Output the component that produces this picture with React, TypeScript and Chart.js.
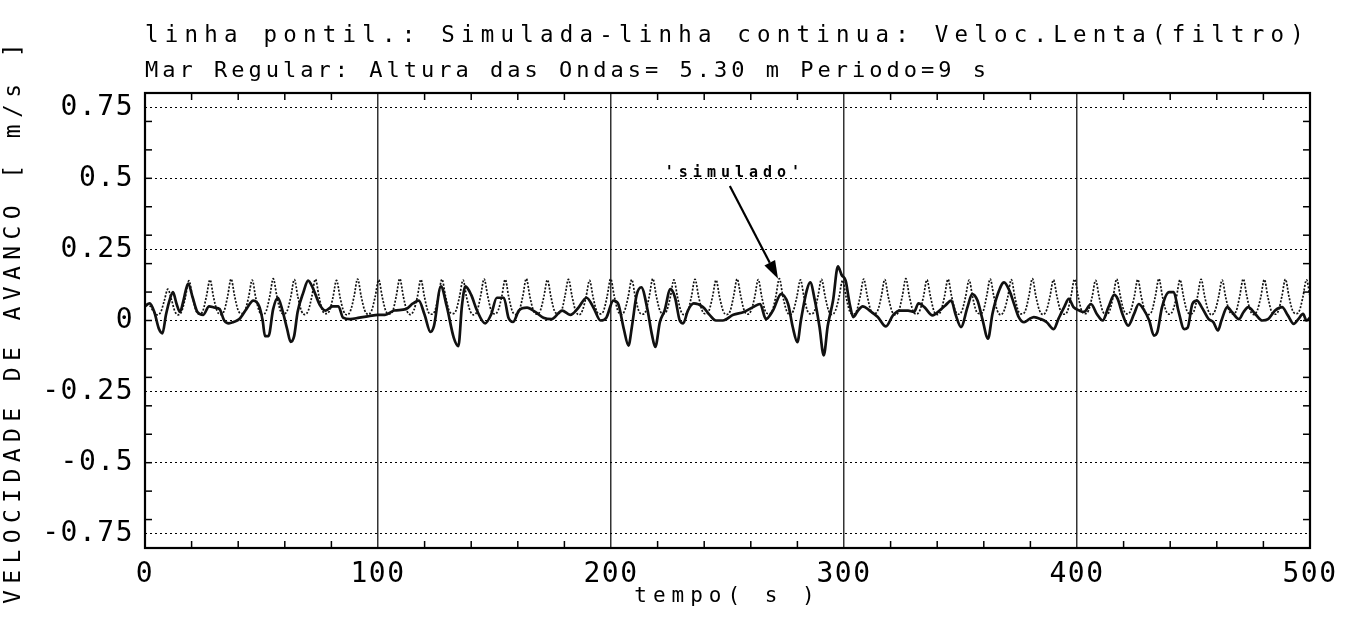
import { useEffect, useRef } from 'react';
import { Chart, registerables } from 'chart.js';

Chart.register(...registerables);

const FONT_FAMILY = '"DejaVu Sans Mono", monospace';

const TITLE_LINE_1 = 'linha pontil.: Simulada-linha continua: Veloc.Lenta(filtro)';
const TITLE_LINE_2 = 'Mar Regular: Altura das Ondas= 5.30 m Periodo=9 s';
const X_AXIS_TITLE = 'tempo( s )';
const Y_AXIS_TITLE = 'VELOCIDADE DE AVANCO [ m/s ]';
const ANNOTATION_LABEL = "'simulado'";

const X_TICKS = [0, 100, 200, 300, 400, 500];
const Y_TICKS = [-0.75, -0.5, -0.25, 0, 0.25, 0.5, 0.75];
const X_MIN = 0;
const X_MAX = 500;
const Y_MIN = -0.8;
const Y_MAX = 0.8;
const X_MINOR_STEP = 20;
const Y_MINOR_STEP = 0.1;

// annotation anchor points (time s, velocity m/s)
const ANNOTATION_TEXT_AT = [253.2, 0.52];
const ARROW_FROM = [251, 0.473];
const ARROW_TO = [271.7, 0.147];

// solid line: slow velocity (filtered)
const slowTime = [
  0, 2, 4, 6, 7.5, 9, 10.5, 12, 13.5, 15, 16.5, 18.5, 20.5, 22.5, 25, 27.5, 30, 32, 34, 36,
  38, 40.5, 43.5, 46.5, 49, 50.5, 51.5, 53, 55, 57, 59, 61, 62.5, 64, 65.5, 68, 70, 72, 75, 77.5,
  80.5, 83, 85, 88, 92, 96, 100, 103, 107, 112, 115, 117.5, 120, 122.5, 124, 127, 129.5, 132.5, 134.5, 136,
  137.5, 140, 142.5, 146, 148.5, 151, 154, 156, 158, 160.5, 164, 167.5, 171, 174.5, 179, 182.5, 186, 189.5, 192.5, 195.5,
  198, 201, 203, 205.5, 207.5, 209, 211, 213, 215.5, 217.5, 219, 221, 223, 225.5, 227.5, 229.5, 231, 233, 235.5, 239.5,
  242.5, 245, 248, 252.5, 257, 261, 264, 266.5, 269.5, 273, 276, 278, 280, 281.5, 284, 285.5, 287.5, 289.5, 291.3, 293,
  295.3, 297.4, 299, 300.7, 302.4, 304, 306, 308, 311, 314.5, 318, 321, 324, 327.5, 330, 332, 334.5, 338, 341, 343.5,
  346, 348, 350.2, 353, 355, 357.3, 359.4, 361.8, 363.7, 366, 368.7, 371, 373, 375, 377.3, 379.5, 381.5, 384.5, 387, 390,
  392, 394.5, 396.5, 398.5, 401, 403, 406, 408.5, 411, 413.5, 416, 417.5, 419.5, 422, 424.5, 426.5, 428.5, 431, 433, 434.5,
  436.5, 439.5, 441.5, 443.5, 446, 447.5, 449.5, 451.5, 453.5, 456.5, 458.5, 460.5, 462, 464.5, 466.5, 469.5, 471.5, 473.5, 476.5, 479.5,
  482, 485, 488, 490.5, 493, 495, 497, 498.5, 500,
];
const slowVelocity = [
  0.05, 0.06, 0.03, -0.03, -0.045, 0.02, 0.07, 0.1, 0.06, 0.03, 0.07, 0.13, 0.08, 0.03, 0.02, 0.05, 0.045, 0.04, 0.0, -0.01,
  -0.005, 0.005, 0.04, 0.07, 0.05, 0.0, -0.055, -0.055, 0.04, 0.08, 0.035, -0.03, -0.075, -0.055, 0.03, 0.1, 0.14, 0.115, 0.055, 0.035,
  0.05, 0.05, 0.01, 0.005, 0.01, 0.015, 0.02, 0.02, 0.035, 0.04, 0.06, 0.07, 0.02, -0.04, -0.02, 0.12, 0.05, -0.06, -0.09, 0.05,
  0.12, 0.09, 0.035, -0.01, 0.02, 0.08, 0.08, 0.01, -0.005, 0.035, 0.045, 0.03, 0.01, 0.005, 0.035, 0.02, 0.045, 0.08, 0.045, 0.0,
  0.01, 0.07, 0.06, -0.03, -0.088, -0.02, 0.09, 0.117, 0.045, -0.047, -0.093, -0.005, 0.035, 0.11, 0.08, 0.0, -0.01, 0.035, 0.06, 0.047,
  0.018, 0.0, 0.0, 0.02, 0.03, 0.047, 0.058, 0.005, 0.035, 0.093, 0.058, -0.023, -0.076, 0.0, 0.105, 0.134, 0.07, -0.023, -0.123, -0.02,
  0.07, 0.19, 0.16, 0.14, 0.06, 0.012, 0.035, 0.05, 0.035, 0.012, -0.021, 0.018, 0.035, 0.035, 0.03, 0.06, 0.047, 0.018, 0.035, 0.053,
  0.07, 0.018, -0.023, 0.047, 0.093, 0.07, 0.005, -0.064, 0.023, 0.093, 0.134, 0.105, 0.058, 0.012, -0.006, 0.005, 0.012, 0.005, -0.006, -0.03,
  0.005, 0.047, 0.076, 0.047, 0.035, 0.03, 0.058, 0.023, 0.0, 0.047, 0.09, 0.075, 0.023, -0.018, 0.023, 0.058, 0.04, 0.0, -0.053, -0.04,
  0.047, 0.1, 0.1, 0.035, -0.03, -0.025, 0.058, 0.07, 0.047, 0.005, -0.006, -0.035, 0.0, 0.047, 0.03, 0.005, 0.03, 0.047, 0.023, 0.0,
  0.005, 0.035, 0.047, 0.018, -0.012, 0.005, 0.023, 0.0, 0.01,
];

// dotted line: simulated velocity, sampled evenly from SIM_START every SIM_STEP seconds
const SIM_START = 0.75;
const SIM_STEP = 9.05 / 6;
const simulatedVelocity = [
  0.060, 0.050, 0.030, 0.020, 0.030, 0.070,
  0.110, 0.075, 0.032, 0.020, 0.034, 0.082,
  0.140, 0.085, 0.035, 0.022, 0.035, 0.086,
  0.143, 0.082, 0.034, 0.021, 0.033, 0.084,
  0.146, 0.086, 0.036, 0.024, 0.036, 0.083,
  0.142, 0.081, 0.033, 0.020, 0.034, 0.085,
  0.147, 0.087, 0.035, 0.023, 0.035, 0.084,
  0.144, 0.083, 0.034, 0.021, 0.036, 0.086,
  0.145, 0.085, 0.035, 0.024, 0.034, 0.082,
  0.141, 0.082, 0.033, 0.020, 0.035, 0.085,
  0.146, 0.086, 0.036, 0.022, 0.035, 0.084,
  0.143, 0.083, 0.034, 0.023, 0.033, 0.086,
  0.147, 0.085, 0.035, 0.021, 0.036, 0.083,
  0.144, 0.084, 0.033, 0.022, 0.034, 0.085,
  0.145, 0.086, 0.036, 0.024, 0.035, 0.084,
  0.142, 0.082, 0.034, 0.020, 0.033, 0.086,
  0.146, 0.087, 0.035, 0.023, 0.036, 0.083,
  0.144, 0.083, 0.033, 0.021, 0.034, 0.085,
  0.147, 0.085, 0.036, 0.022, 0.035, 0.084,
  0.143, 0.084, 0.034, 0.024, 0.033, 0.086,
  0.145, 0.086, 0.035, 0.020, 0.036, 0.083,
  0.141, 0.082, 0.033, 0.023, 0.034, 0.085,
  0.146, 0.087, 0.036, 0.021, 0.035, 0.084,
  0.144, 0.083, 0.034, 0.022, 0.033, 0.086,
  0.147, 0.085, 0.035, 0.024, 0.036, 0.083,
  0.143, 0.084, 0.033, 0.020, 0.034, 0.085,
  0.145, 0.086, 0.036, 0.023, 0.035, 0.084,
  0.142, 0.082, 0.034, 0.021, 0.033, 0.086,
  0.146, 0.087, 0.035, 0.022, 0.036, 0.083,
  0.144, 0.083, 0.033, 0.024, 0.034, 0.085,
  0.147, 0.085, 0.036, 0.020, 0.035, 0.084,
  0.143, 0.084, 0.034, 0.023, 0.033, 0.086,
  0.145, 0.086, 0.035, 0.021, 0.036, 0.083,
  0.141, 0.082, 0.033, 0.022, 0.034, 0.085,
  0.146, 0.087, 0.036, 0.024, 0.035, 0.084,
  0.144, 0.083, 0.034, 0.020, 0.033, 0.086,
  0.147, 0.085, 0.035, 0.023, 0.036, 0.083,
  0.143, 0.084, 0.033, 0.021, 0.034, 0.085,
  0.145, 0.086, 0.036, 0.022, 0.035, 0.084,
  0.142, 0.082, 0.034, 0.024, 0.033, 0.086,
  0.146, 0.087, 0.035, 0.020, 0.036, 0.083,
  0.144, 0.083, 0.033, 0.023, 0.034, 0.085,
  0.147, 0.085, 0.036, 0.021, 0.035, 0.084,
  0.143, 0.084, 0.034, 0.022, 0.033, 0.086,
  0.145, 0.086, 0.035, 0.024, 0.036, 0.083,
  0.141, 0.082, 0.033, 0.020, 0.034, 0.085,
  0.146, 0.087, 0.036, 0.023, 0.035, 0.084,
  0.144, 0.083, 0.034, 0.021, 0.033, 0.086,
  0.147, 0.085, 0.035, 0.022, 0.036, 0.083,
  0.143, 0.084, 0.033, 0.024, 0.034, 0.085,
  0.145, 0.086, 0.036, 0.020, 0.035, 0.084,
  0.142, 0.082, 0.034, 0.023, 0.033, 0.086,
  0.146, 0.087, 0.035, 0.021, 0.036, 0.083,
  0.144, 0.083, 0.033, 0.022, 0.034, 0.085,
  0.145, 0.085, 0.036, 0.024, 0.035, 0.084,
  0.143, 0.084,
];

// letter spacing per font size (plotter-style wide lettering)
const LETTER_SPACING: Record<number, string> = {
  23: '6.4px',
  22: '4px',
  21: '6px',
  28: '1.5px',
  15: '5px',
};

function installLetterSpacing(ctx: CanvasRenderingContext2D) {
  const desc = Object.getOwnPropertyDescriptor(CanvasRenderingContext2D.prototype, 'font');
  if (!desc || !desc.get || !desc.set) return;
  Object.defineProperty(ctx, 'font', {
    configurable: true,
    get() {
      return desc.get!.call(this);
    },
    set(v: string) {
      desc.set!.call(this, v);
      const m = /(\d+(?:\.\d+)?)px/.exec(v);
      const ls = m ? LETTER_SPACING[Math.round(parseFloat(m[1]))] : undefined;
      if ('letterSpacing' in this) (this as any).letterSpacing = ls ?? '0px';
    },
  });
}

const plotterFrame = {
  id: 'plotterFrame',
  afterDraw(chart: any) {
    const { ctx, chartArea: a, scales } = chart;
    const x = scales.x;
    const y = scales.y;
    ctx.save();
    ctx.strokeStyle = '#000';
    ctx.lineWidth = 1.5;
    ctx.setLineDash([]);
    const seg = (x1: number, y1: number, x2: number, y2: number) => {
      ctx.beginPath();
      ctx.moveTo(x1, y1);
      ctx.lineTo(x2, y2);
      ctx.stroke();
    };
    for (let t = X_MIN + X_MINOR_STEP; t < X_MAX; t += X_MINOR_STEP) {
      if (Math.abs(t % 100) < 1e-6) continue;
      const px = x.getPixelForValue(t);
      seg(px, a.bottom, px, a.bottom - 7);
      seg(px, a.top, px, a.top + 7);
    }
    for (let k = -7; k <= 7; k++) {
      const v = k * Y_MINOR_STEP;
      const py = y.getPixelForValue(v);
      seg(a.left, py, a.left + 7, py);
      seg(a.right, py, a.right - 7, py);
    }
    ctx.lineWidth = 2.2;
    ctx.strokeRect(a.left, a.top, a.right - a.left, a.bottom - a.top);

    // annotation
    const fx = x.getPixelForValue(ARROW_FROM[0]);
    const fy = y.getPixelForValue(ARROW_FROM[1]);
    const tx = x.getPixelForValue(ARROW_TO[0]);
    const ty = y.getPixelForValue(ARROW_TO[1]);
    const ang = Math.atan2(ty - fy, tx - fx);
    const head = 18;
    const half = 6;
    const bx = tx - head * Math.cos(ang);
    const by = ty - head * Math.sin(ang);
    ctx.lineWidth = 2.2;
    seg(fx, fy, bx, by);
    ctx.fillStyle = '#000';
    ctx.beginPath();
    ctx.moveTo(tx, ty);
    ctx.lineTo(bx + half * Math.sin(ang), by - half * Math.cos(ang));
    ctx.lineTo(bx - half * Math.sin(ang), by + half * Math.cos(ang));
    ctx.closePath();
    ctx.fill();

    ctx.font = `bold 15px ${FONT_FAMILY}`;
    ctx.textAlign = 'center';
    ctx.textBaseline = 'middle';
    ctx.fillText(ANNOTATION_LABEL, x.getPixelForValue(ANNOTATION_TEXT_AT[0]), y.getPixelForValue(ANNOTATION_TEXT_AT[1]));
    ctx.restore();
  },
};

export default function App() {
  const canvasRef = useRef<HTMLCanvasElement | null>(null);

  useEffect(() => {
    document.body.style.margin = '0';
    const canvas = canvasRef.current;
    if (!canvas) return;
    const ctx = canvas.getContext('2d');
    if (!ctx) return;
    installLetterSpacing(ctx);

    const slowData = slowTime.map((t, i) => ({ x: t, y: slowVelocity[i] }));
    const simData = simulatedVelocity.map((v, i) => ({ x: SIM_START + i * SIM_STEP, y: v }));

    const chart = new Chart(ctx, {
      type: 'line',
      data: {
        datasets: [
          {
            label: 'Veloc.Lenta(filtro)',
            data: slowData,
            borderColor: '#111',
            borderWidth: 2.7,
            pointRadius: 0,
            cubicInterpolationMode: 'monotone',
            fill: false,
          },
          {
            label: 'Simulada',
            data: simData,
            borderColor: '#111',
            borderWidth: 1.7,
            borderDash: [2, 1.6],
            pointRadius: 0,
            cubicInterpolationMode: 'monotone',
            fill: false,
          },
        ],
      },
      options: {
        responsive: false,
        animation: false,
        devicePixelRatio: 1,
        layout: { padding: { left: 0, right: 53, top: 0, bottom: 0 } },
        plugins: {
          legend: { display: false },
          tooltip: { enabled: false },
          title: {
            display: true,
            text: TITLE_LINE_1,
            align: 'start',
            fullSize: false,
            color: '#000',
            font: { family: FONT_FAMILY, size: 23, weight: 'normal' },
            padding: { top: 22.7, bottom: 0 },
          },
          subtitle: {
            display: true,
            text: TITLE_LINE_2,
            align: 'start',
            fullSize: false,
            color: '#000',
            font: { family: FONT_FAMILY, size: 22, weight: 'normal' },
            padding: { top: 8, bottom: 8.3 },
          },
        },
        scales: {
          x: {
            type: 'linear',
            min: X_MIN,
            max: X_MAX,
            afterBuildTicks: (s: any) => {
              s.ticks = X_TICKS.map((value) => ({ value }));
            },
            afterFit: (s: any) => {
              s.height = 75;
            },
            ticks: {
              color: '#000',
              font: { family: FONT_FAMILY, size: 28 },
              padding: 10,
              maxRotation: 0,
              autoSkip: false,
              callback: (v: any) => String(v),
            },
            grid: { color: '#333', lineWidth: 1.5, drawTicks: false },
            border: { display: false },
            title: {
              display: true,
              text: X_AXIS_TITLE,
              color: '#000',
              font: { family: FONT_FAMILY, size: 21 },
              padding: { top: 0, bottom: 14 },
            },
          },
          y: {
            type: 'linear',
            min: Y_MIN,
            max: Y_MAX,
            afterBuildTicks: (s: any) => {
              s.ticks = Y_TICKS.map((value) => ({ value }));
            },
            afterFit: (s: any) => {
              s.width = 145;
            },
            ticks: {
              color: '#000',
              font: { family: FONT_FAMILY, size: 28 },
              padding: 11,
              autoSkip: false,
              callback: (v: any) => String(v),
            },
            grid: { color: '#000', lineWidth: 1, drawTicks: false },
            border: { display: false, dash: [2, 3] },
            title: {
              display: true,
              text: Y_AXIS_TITLE,
              color: '#000',
              font: { family: FONT_FAMILY, size: 23 },
              padding: { top: 0, bottom: 0 },
            },
          },
        },
      },
      plugins: [plotterFrame],
    } as any);

    return () => {
      chart.destroy();
    };
  }, []);

  return (
    <div style={{ width: 1363, height: 623, background: '#fff' }}>
      <canvas ref={canvasRef} width={1363} height={623} style={{ display: 'block' }} />
    </div>
  );
}
